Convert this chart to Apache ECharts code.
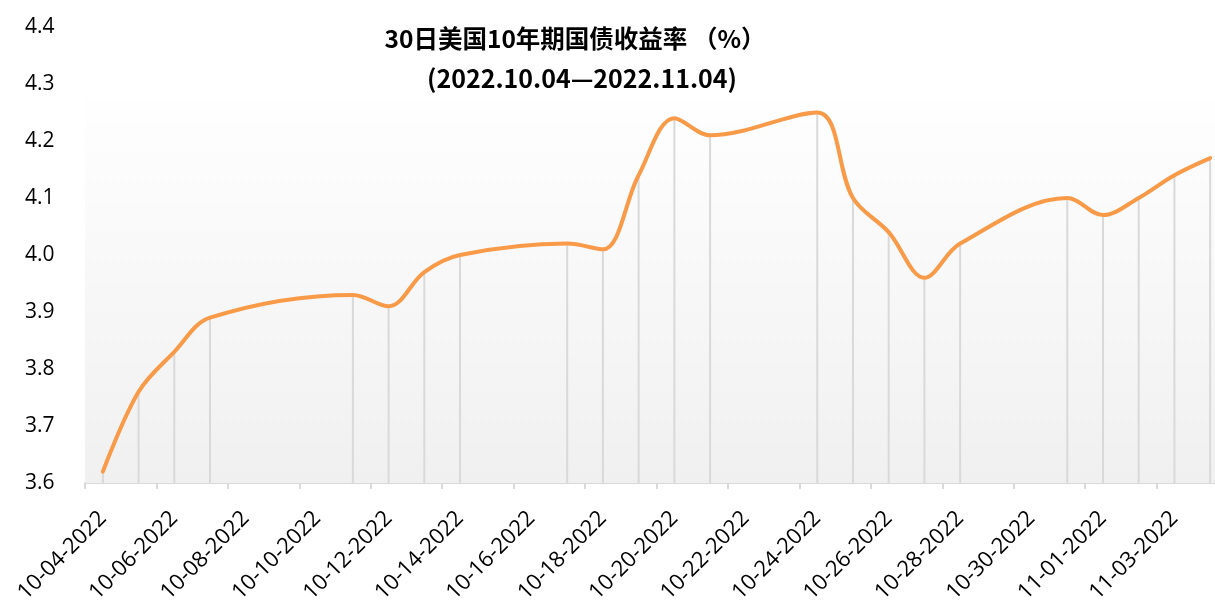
<!DOCTYPE html>
<html>
<head>
<meta charset="utf-8">
<script src="https://cdn.jsdelivr.net/npm/echarts@6/dist/echarts.min.js"></script>
<style>
  html, body { margin: 0; padding: 0; background: #fff; }
  #chart { width: 1215px; height: 603px; }
</style>
</head>
<body>
<div id="chart"></div>
<script>
// every calendar day on the axis (one category per day)
const days = [
  '10-04-2022', '10-05-2022', '10-06-2022', '10-07-2022', '10-08-2022', '10-09-2022',
  '10-10-2022', '10-11-2022', '10-12-2022', '10-13-2022', '10-14-2022', '10-15-2022',
  '10-16-2022', '10-17-2022', '10-18-2022', '10-19-2022', '10-20-2022', '10-21-2022',
  '10-22-2022', '10-23-2022', '10-24-2022', '10-25-2022', '10-26-2022', '10-27-2022',
  '10-28-2022', '10-29-2022', '10-30-2022', '10-31-2022', '11-01-2022', '11-02-2022',
  '11-03-2022', '11-04-2022'
];
// trading days with a quote
const tradeDates = [
  '10-04-2022', '10-05-2022', '10-06-2022', '10-07-2022', '10-11-2022', '10-12-2022',
  '10-13-2022', '10-14-2022', '10-17-2022', '10-18-2022', '10-19-2022', '10-20-2022',
  '10-21-2022', '10-24-2022', '10-25-2022', '10-26-2022', '10-27-2022', '10-28-2022',
  '10-31-2022', '11-01-2022', '11-02-2022', '11-03-2022', '11-04-2022'
];
const yields = [
  3.62, 3.76, 3.83, 3.89, 3.93, 3.91,
  3.97, 4.00, 4.02, 4.01, 4.14, 4.24,
  4.21, 4.25, 4.10, 4.04, 3.96, 4.02,
  4.10, 4.07, 4.10, 4.14, 4.17
];
const yMin = 3.6;
const yMax = 4.4;
const yStep = 0.1;

const titleText = '30日美国10年期国债收益率 （%）';
const subTitleText = '(2022.10.04—2022.11.04)';

const points = tradeDates.map((d, i) => [d, yields[i]]);

const chart = echarts.init(document.getElementById('chart'));

const option = {
  backgroundColor: '#fff',
  animation: false,
  title: [
    {
      text: titleText,
      left: 575,
      top: 26,
      textAlign: 'center',
      padding: 0,
      textStyle: { fontFamily: 'Noto Sans CJK SC', fontWeight: 'bold', fontSize: 24.5, color: '#000' }
    },
    {
      text: subTitleText,
      left: 582,
      top: 66,
      textAlign: 'center',
      padding: 0,
      textStyle: { fontFamily: 'Noto Sans CJK SC', fontWeight: 'bold', fontSize: 25, color: '#000' }
    }
  ],
  grid: {
    left: 85,
    top: 27,
    width: 1143,
    bottom: 120,
    outerBoundsMode: 'none',
    containLabel: false
  },
  xAxis: {
    type: 'category',
    data: days,
    boundaryGap: true,
    axisLine: { show: true, lineStyle: { color: '#d9d9d9', width: 2 } },
    axisTick: { show: true, interval: 1, length: 6, lineStyle: { color: '#d9d9d9', width: 2 } },
    axisLabel: {
      interval: 1,
      rotate: 45,
      margin: 32,
      fontFamily: 'Open Sans',
      fontSize: 22,
      color: '#000'
    },
    splitLine: { show: false }
  },
  yAxis: {
    type: 'value',
    min: yMin,
    max: yMax,
    interval: yStep,
    axisLine: { show: false },
    axisTick: { show: false },
    splitLine: { show: false },
    axisLabel: {
      align: 'left',
      margin: 60,
      fontFamily: 'Open Sans',
      fontSize: 21,
      color: '#000',
      formatter: v => v.toFixed(1)
    }
  },
  series: [
    {
      // drop lines from each quote down to the axis
      type: 'custom',
      z: 2,
      silent: true,
      data: points,
      renderItem: (params, api) => {
        const top = api.coord([api.value(0), api.value(1)]);
        const bottom = api.coord([api.value(0), yMin]);
        return {
          type: 'line',
          shape: { x1: top[0], y1: top[1], x2: bottom[0], y2: bottom[1] },
          style: { stroke: '#d9d9d9', lineWidth: 2 }
        };
      }
    },
    {
      type: 'line',
      z: 3,
      data: points,
      smooth: 0.35,
      showSymbol: false,
      lineStyle: { color: '#f89a48', width: 4, cap: 'round' },
      itemStyle: { color: '#f89a48' },
      markArea: {
        silent: true,
        itemStyle: {
          color: new echarts.graphic.LinearGradient(0, 0, 0, 1, [
            { offset: 0, color: '#ffffff' },
            { offset: 1, color: '#f0f0f0' }
          ])
        },
        data: [[{ yAxis: 4.3 }, { yAxis: yMin }]]
      }
    }
  ]
};

chart.setOption(option);
</script>
</body>
</html>
